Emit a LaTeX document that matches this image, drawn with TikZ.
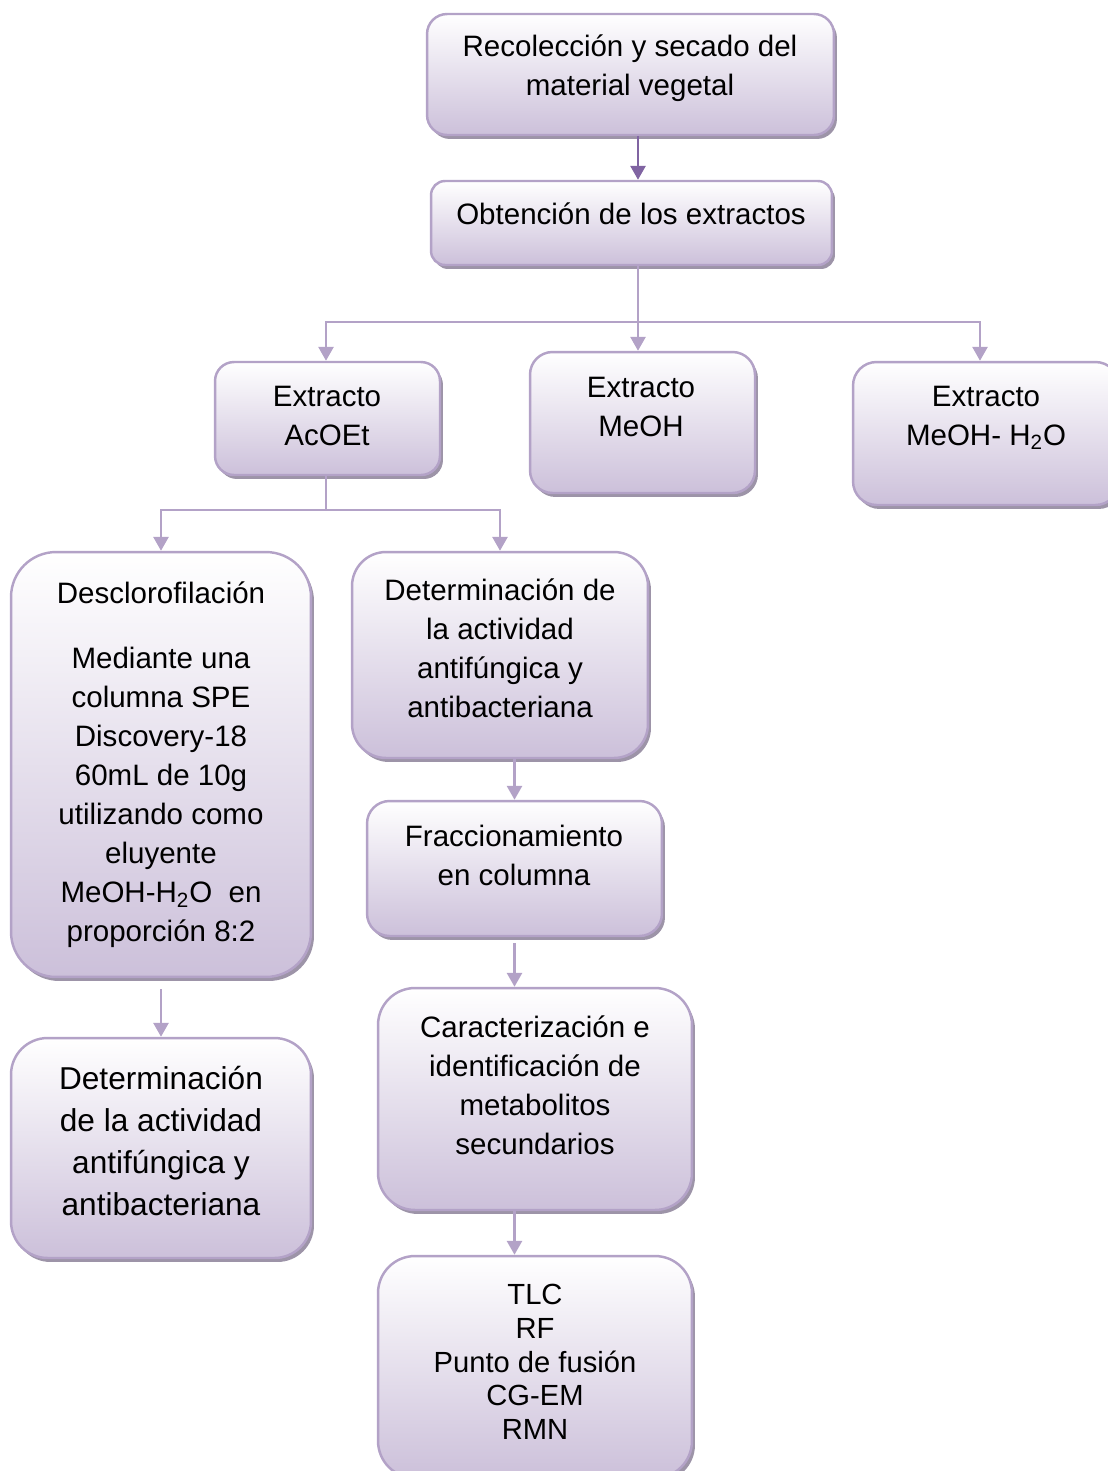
\documentclass[tikz,border=0pt]{standalone}
\usepackage{fontspec}
\setmainfont{Liberation Sans}
\usepackage{xcolor}
\usepackage{tikz}
\usetikzlibrary{positioning,arrows.meta,shadows}

\definecolor{lavline}{HTML}{B3A2C7}
\definecolor{lavfill}{HTML}{CCC0DA}
\definecolor{lavshadow}{HTML}{9D94A8}
\definecolor{lavdark}{HTML}{8064A2}

\tikzset{
  box/.style={draw=lavline, line width=1.4pt, top color=white, bottom color=lavfill,
    inner sep=0pt, drop shadow={shadow xshift=0.06cm, shadow yshift=-0.08cm, fill=lavshadow, opacity=1}},
  lbl/.style={align=center, inner sep=0pt, font=\fontsize{16.8}{22.2}\selectfont},
  conn/.style={draw=lavline, line width=1.6pt},
  arrow/.style={conn, -{Triangle[width=0.3cm,length=0.28cm]}},
  darkarrow/.style={arrow, draw=lavdark, fill=lavdark}
}

\begin{document}
\begin{tikzpicture}[x=0.02cm, y=-0.02cm]
  \useasboundingbox (0,0) rectangle (1108,1471);

  % boxes
  \node[box, rounded corners=0.4cm, minimum width=8.14cm, minimum height=2.42cm] (rec) at (630.5,74.5) {};
  \node[box, rounded corners=0.28cm, minimum width=8.02cm, minimum height=1.68cm] (obt) at (631.5,223) {};
  \node[box, rounded corners=0.38cm, minimum width=4.5cm, minimum height=2.26cm] (acoet) at (327.5,418.5) {};
  \node[box, rounded corners=0.45cm, minimum width=4.5cm, minimum height=2.82cm] (meoh) at (642.5,422.5) {};
  \node[box, rounded corners=0.47cm, minimum width=5.32cm, minimum height=2.86cm] (agua) at (986,433.5) {};
  \node[box, rounded corners=0.9cm, minimum width=6cm, minimum height=8.5cm] (descl) at (161,764.5) {};
  \node[box, rounded corners=0.68cm, minimum width=5.92cm, minimum height=4.12cm] (det1) at (500,655) {};
  \node[box, rounded corners=0.45cm, minimum width=5.9cm, minimum height=2.7cm] (frac) at (514.5,868.5) {};
  \node[box, rounded corners=0.73cm, minimum width=6cm, minimum height=4.4cm] (det2) at (161,1148) {};
  \node[box, rounded corners=0.74cm, minimum width=6.28cm, minimum height=4.44cm] (carac) at (535,1099) {};
  \node[box, rounded corners=0.74cm, minimum width=6.28cm, minimum height=4.44cm] (tlc) at (535,1367) {};

  % texts
  \node[lbl] (t-rec) at (630,68) {Recolección y secado del\\material vegetal};
  \node[lbl] (t-obt) at (631,214) {Obtención de los extractos};
  \node[lbl] (t-acoet) at (327,416) {Extracto\\AcOEt};
  \node[lbl] (t-meoh) at (641,407) {Extracto\\MeOH};
  \node[lbl] (t-agua) at (986,418) {Extracto\\MeOH- H\textsubscript{2}O};
  \node[lbl] (t-descl) at (161,765) {Desclorofilación\\[0.52cm]Mediante una\\columna SPE\\Discovery-18\\60mL de 10g\\utilizando como\\eluyente\\MeOH-H\textsubscript{2}O\ \ en\\proporción 8:2};
  \node[lbl] (t-det1) at (500,648) {Determinación de\\la actividad\\antifúngica y\\antibacteriana};
  \node[lbl] (t-frac) at (514,855) {Fraccionamiento\\en columna};
  \node[lbl, font=\fontsize{18}{24}\selectfont] (t-det2) at (161,1141) {Determinación\\de la actividad\\antifúngica y\\antibacteriana};
  \node[lbl] (t-carac) at (535,1085) {Caracterización e\\identificación de\\metabolitos\\secundarios};
  \node[lbl, font=\fontsize{16.6}{19.2}\selectfont] (t-tlc) at (535,1362) {TLC\\RF\\Punto de fusión\\CG-EM\\RMN};

  % connectors
  \coordinate (j1) at (638,322);
  \coordinate (j1r) at (980,322);
  \coordinate (j2) at (326,510);
  \draw[darkarrow] (rec.south -| j1) -- (obt.north -| j1);
  \draw[conn] (obt.south -| j1) -- (j1);
  \draw[arrow] (j1) -- (meoh.north -| j1);
  \draw[arrow] (j1) -| (acoet.north -| j2);
  \draw[arrow] (j1) -| (agua.north -| j1r);
  \draw[conn] (acoet.south -| j2) -- (j2);
  \draw[arrow] (j2) -| (descl.north);
  \draw[arrow] (j2) -| (det1.north);
  \draw[arrow, shorten <=0.22cm] (descl.south) -- (det2.north);
  \draw[arrow] (det1.south -| frac.north) -- (frac.north);
  \draw[arrow, shorten <=0.12cm] (frac.south) -- (carac.north -| frac.south);
  \draw[arrow] (carac.south -| frac.south) -- (tlc.north -| frac.south);
\end{tikzpicture}
\end{document}
